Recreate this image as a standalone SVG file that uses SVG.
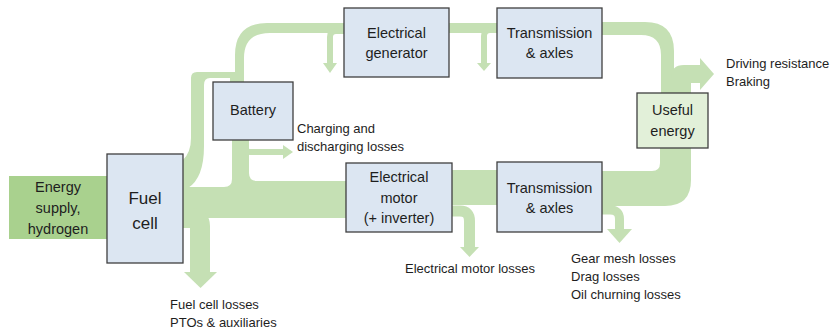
<svg xmlns="http://www.w3.org/2000/svg" width="832" height="331" viewBox="0 0 832 331">
<style>
.flow{fill:#C5E0B4;stroke:none}
.fs{fill:none;stroke:#C5E0B4}
.box{fill:#DCE6F2;stroke:#3F3F3F;stroke-width:1.3}
.ue{fill:#E2F0D9;stroke:#3F3F3F;stroke-width:1.3}
text{font-family:"Liberation Sans",Arial,sans-serif;fill:#1e1e1e}
.bt{font-size:14.5px;text-anchor:middle}
.big{font-size:17px;text-anchor:middle}
.lb{font-size:13px}
</style>
<rect x="0" y="0" width="832" height="331" fill="#FFFFFF"/>
<g id="connectors">
  <!-- energy supply -->
  <rect x="9" y="176" width="98" height="63" fill="#A9D18E"/>
  <!-- main band + battery down band -->
  <path class="flow" d="M232,140 H249 V173 Q249,181 257,181 H346 V218 H183 V187 H224 Q232,187 232,179 Z"/>
  <!-- arm up from fuel cell -->
  <path class="flow" d="M183,188 V160 Q191,152 191,138 V78 Q191,72 197,72 H244 V82 H230 V78 H210 Q204,78 204,85 V146 Q204,178 188,188 Z"/>
  <!-- top band -->
  <path class="flow" d="M235,80 V55 Q235,23 267,23 H345 V33 H270 Q244,33 244,58 V80 Z"/>
  <rect class="flow" x="449" y="23" width="48" height="10"/>
  <path class="flow" d="M602,22 H645 Q674,22 674,51 V95 H661 V55 Q661,35 641,35 H602 Z"/>
  <!-- output arrow from useful energy -->
  <path class="flow" d="M671,95 V78 Q671,65 684,65 H701 V83 H691 V95 Z"/>
  <polygon class="flow" points="700,58 714,74 700,90"/>
  <!-- lower bands -->
  <rect class="flow" x="452" y="170" width="45" height="35"/>
  <path class="flow" d="M602,171 H652 Q660,171 660,163 V146 H691 V180 Q691,206 665,206 H602 Z"/>
  <!-- losses -->
  <path class="fs" stroke-width="6" d="M344,31 H336 Q330,31 330,37 V64"/>
  <polygon class="flow" points="323,63 337,63 330,73"/>
  <path class="fs" stroke-width="6" d="M497,30 H490 Q484,30 484,36 V64"/>
  <polygon class="flow" points="477,63 491,63 484,71"/>
  <path class="fs" stroke-width="6" d="M244,140 V146 Q244,152 250,152 H284"/>
  <polygon class="flow" points="283,145 293,152 283,159"/>
  <path class="fs" stroke-width="20" d="M183,218 H192 Q200,218 200,226 V273"/>
  <polygon class="flow" points="184,272 217,272 200.5,288"/>
  <path class="fs" stroke-width="11" d="M452,211 H460 Q469.5,211 469.5,221 V248"/>
  <polygon class="flow" points="460,247 479,247 469.5,257"/>
  <path class="fs" stroke-width="9" d="M602,210 H610 Q619.5,210 619.5,219 V230"/>
  <polygon class="flow" points="607,229 632,229 619.5,243"/>
</g>
<g id="energy-supply">
  <text class="bt" x="58" y="192">Energy</text>
  <text class="bt" x="58" y="213">supply,</text>
  <text class="bt" x="58" y="234">hydrogen</text>
</g>
<g id="fuel-cell">
  <rect class="box" x="107" y="154" width="76" height="109"/>
  <text class="big" x="145" y="204">Fuel</text>
  <text class="big" x="145" y="229">cell</text>
</g>
<g id="battery">
  <rect class="box" x="213" y="82" width="80" height="58"/>
  <text class="bt" x="253" y="115">Battery</text>
</g>
<g id="electrical-generator">
  <rect class="box" x="344" y="8" width="105" height="69"/>
  <text class="bt" x="396.5" y="38">Electrical</text>
  <text class="bt" x="396.5" y="58">generator</text>
</g>
<g id="transmission-top">
  <rect class="box" x="497" y="8" width="105" height="70"/>
  <text class="bt" x="549.5" y="38">Transmission</text>
  <text class="bt" x="549.5" y="58">&amp; axles</text>
</g>
<g id="electrical-motor">
  <rect class="box" x="346" y="163" width="106" height="69"/>
  <text class="bt" x="399" y="182">Electrical</text>
  <text class="bt" x="399" y="203">motor</text>
  <text class="bt" x="399" y="223">(+ inverter)</text>
</g>
<g id="transmission-bottom">
  <rect class="box" x="497" y="162" width="105" height="70"/>
  <text class="bt" x="549.5" y="193">Transmission</text>
  <text class="bt" x="549.5" y="213">&amp; axles</text>
</g>
<g id="useful-energy">
  <rect class="ue" x="637" y="93" width="71" height="55"/>
  <text class="bt" x="672.5" y="115">Useful</text>
  <text class="bt" x="672.5" y="136">energy</text>
</g>
<g id="labels">
  <text class="lb" x="726" y="68">Driving resistance</text>
  <text class="lb" x="726" y="86">Braking</text>
  <text class="lb" x="297" y="133">Charging and</text>
  <text class="lb" x="297" y="151">discharging losses</text>
  <text class="lb" x="405" y="273">Electrical motor losses</text>
  <text class="lb" x="571" y="263">Gear mesh losses</text>
  <text class="lb" x="571" y="281">Drag losses</text>
  <text class="lb" x="571" y="299">Oil churning losses</text>
  <text class="lb" x="170" y="309">Fuel cell losses</text>
  <text class="lb" x="170" y="327">PTOs &amp; auxiliaries</text>
</g>
</svg>
